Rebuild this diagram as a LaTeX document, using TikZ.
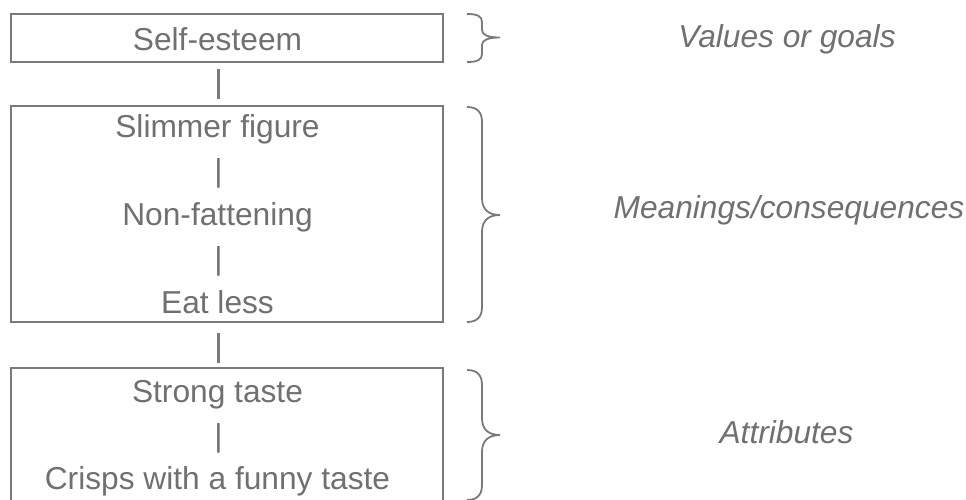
\documentclass[tikz,border=0pt]{standalone}
\usepackage{fontspec}
\setmainfont{Liberation Sans}
\definecolor{txt}{RGB}{112,112,112}
\definecolor{lin}{RGB}{122,122,122}
\begin{document}
\begin{tikzpicture}[x=1pt,y=-1pt,
  box/.style={draw=lin, line width=1.8pt, minimum width=432pt, inner sep=0pt, outer sep=0pt},
  lbl/.style={text=txt, font=\fontsize{31.7}{38}\selectfont, anchor=base, inner sep=0pt},
  cat/.style={lbl, font=\fontsize{31.7}{38}\selectfont\itshape},
  brc/.style={draw=lin, line width=1.8pt},
  conn/.style={draw=lin, line width=2.6pt}]
\useasboundingbox (0,0) rectangle (966,499);
\clip (0,0) rectangle (966,499);
% boxes
\node[box, minimum height=48pt]  (b1) at (227,38) {};
\node[box, minimum height=216pt] (b2) at (227,214) {};
\node[box, minimum height=134pt] (b3) at (227,435) {};
% texts
\node[lbl] (t1) at (217.5,50) {Self-esteem};
\node[lbl] (t2) at (217.5,137) {Slimmer figure};
\node[lbl] (t2a) at (218.5,181) {|};
\node[lbl] (t3) at (217.5,225) {Non-fattening};
\node[lbl] (t3a) at (218.5,269) {|};
\node[lbl] (t4) at (217.5,313) {Eat less};
\node[lbl] (t5) at (217.5,402) {Strong taste};
\node[lbl] (t5a) at (218.5,446) {|};
\node[lbl] (t6) at (217.5,489) {Crisps with a funny taste};
% connectors between boxes
\coordinate (cx) at (218.5,0);
\draw[conn] ([yshift=-7pt]b1.south -| cx) -- ([yshift=7pt]b2.north -| cx);
\draw[conn] ([yshift=-11pt]b2.south -| cx) -- ([yshift=5pt]b3.north -| cx);
% braces
\draw[brc] (467,14) .. controls (477,14) and (482,16) .. (482,22)
  -- (482,30) .. controls (482,35) and (488,37.5) .. (500,37.5)
  .. controls (488,37.5) and (482,40) .. (482,45)
  -- (482,54) .. controls (482,60) and (477,62) .. (467,62);
\draw[brc] (467,107) .. controls (477,107) and (482,112) .. (482,122)
  -- (482,198) .. controls (482,209) and (488,215) .. (500,215)
  .. controls (488,215) and (482,221) .. (482,232)
  -- (482,307) .. controls (482,317) and (477,322) .. (467,322);
\draw[brc] (467,370) .. controls (477,370) and (482,375) .. (482,385)
  -- (482,418) .. controls (482,429) and (488,435) .. (500,435)
  .. controls (488,435) and (482,441) .. (482,452)
  -- (482,485) .. controls (482,495) and (477,500) .. (467,500);
% category labels
\node[cat] (c1) at (787,47) {Values or goals};
\node[cat] (c2) at (789,218) {Meanings/consequences};
\node[cat] (c3) at (786.5,443) {Attributes};
\end{tikzpicture}
\end{document}
